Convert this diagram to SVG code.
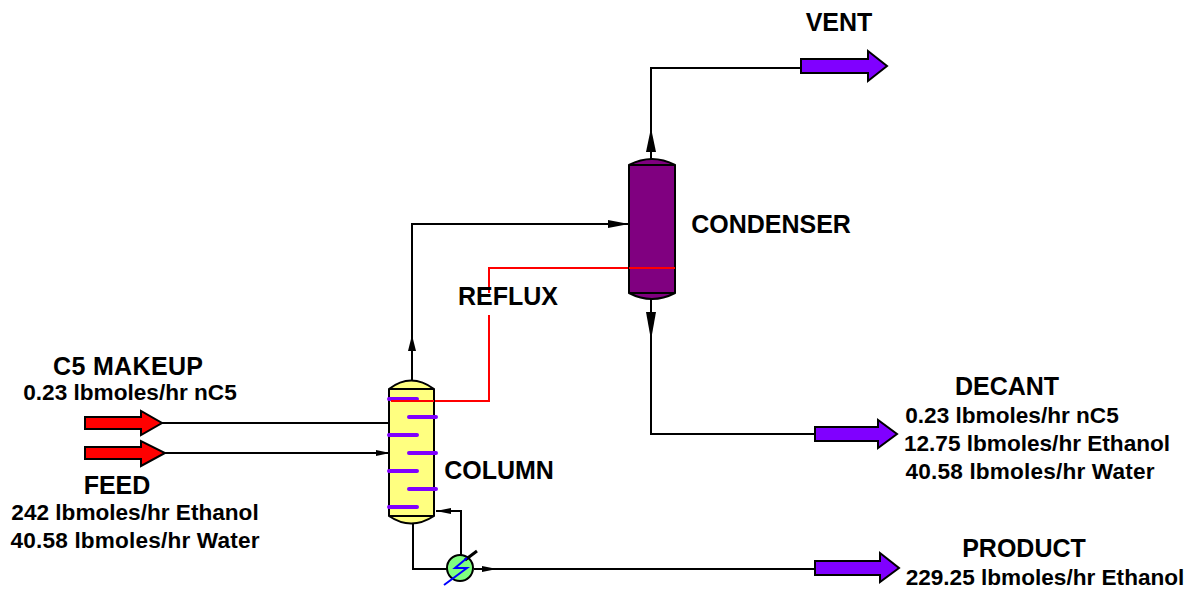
<svg xmlns="http://www.w3.org/2000/svg" width="1193" height="589" viewBox="0 0 1193 589">
<style>
.l{fill:none;stroke:#000;stroke-width:2}
.r{fill:none;stroke:#f00;stroke-width:2}
.h{fill:#000;stroke:none}
.a{stroke:#000;stroke-width:2;stroke-linejoin:miter}
.p{fill:#8000ff}
.f{fill:#f00}
.t{font-family:"Liberation Sans",Arial,sans-serif;font-weight:700;fill:#000;text-anchor:middle}
.b{font-size:25px}
.s{font-size:22.6px}
.tr{stroke:#8000ff;stroke-width:4;stroke-linecap:round}
</style>
<rect width="1193" height="589" fill="#fff"/>
<g id="connectors">
<path class="l" d="M412 381V224H629"/>
<path class="l" d="M651 159V68H801"/>
<path class="l" d="M651 299V434H815"/>
<path class="l" d="M162 423H391"/>
<path class="l" d="M164 453H391"/>
<path class="l" d="M413 523V569H447"/>
<path class="l" d="M461 555V511H436"/>
<path class="l" d="M474 569H815"/>
<path class="r" d="M675 268H489V293"/>
<path class="r" d="M489 315V401H391"/>
<path class="h" d="M412 335L416 351H408Z"/>
<path class="h" d="M629 224L608 220V228Z"/>
<path class="h" d="M651 128L656 152H646Z"/>
<path class="h" d="M651 340L646 312H656Z"/>
<path class="h" d="M390 453L376 450V456Z"/>
<path class="h" d="M436 511L451 508V514Z"/>
<path class="h" d="M497 569L482 566V572Z"/>
</g>
<g id="c5-makeup"><path class="a f" d="M85 417H141V411L162 423L141 435V429H85Z"/></g>
<g id="feed"><path class="a f" d="M85 447H141V441L165 453L141 466V459H85Z"/></g>
<g id="vent"><path class="a p" d="M801 59H868V51L887 66L868 81V73H801Z"/></g>
<g id="decant"><path class="a p" d="M815 427H878V420L897 434L878 448V441H815Z"/></g>
<g id="product"><path class="a p" d="M815 561H880V553L899 568L880 582V575H815Z"/></g>
<g id="column">
<path d="M389 389Q411 372 434 389V516Q411 531 389 516Z" fill="#ffff80" stroke="#000" stroke-width="2"/>
<path class="l" d="M389 389H434M389 516H434"/>
<path class="tr" d="M389 399H417M409 417H436M389 435H417M409 453H436M389 471H417M409 489H436M389 507H417"/>
<path class="r" d="M391 401H434"/>
</g>
<g id="condenser">
<path d="M629 165Q652 153 675 165V293Q652 305 629 293Z" fill="#800080" stroke="#000" stroke-width="2"/>
<path class="l" d="M629 165H675M629 293H675"/>
<path class="r" d="M629 268H675"/>
</g>
<g id="reboiler">
<circle cx="460" cy="568" r="13" fill="#80ff80" stroke="#000" stroke-width="2"/>
<path d="M465 560L477 551" fill="none" stroke="#000" stroke-width="3"/>
<path d="M444 585L467 568H455L467 558" fill="none" stroke="#00f" stroke-width="2"/>
</g>
<g id="labels">
<text class="t b" x="839" y="31">VENT</text>
<text class="t b" x="771" y="233">CONDENSER</text>
<text class="t b" x="508" y="305">REFLUX</text>
<text class="t b" x="128" y="375" textLength="150">C5 MAKEUP</text>
<text class="t s" x="130" y="400">0.23 lbmoles/hr nC5</text>
<text class="t b" x="117" y="494">FEED</text>
<text class="t s" x="135" y="520">242 lbmoles/hr Ethanol</text>
<text class="t s" x="135" y="548" textLength="249">40.58 lbmoles/hr Water</text>
<text class="t b" x="499" y="479">COLUMN</text>
<text class="t b" x="1007" y="395">DECANT</text>
<text class="t s" x="1012" y="423">0.23 lbmoles/hr nC5</text>
<text class="t s" x="1037" y="451">12.75 lbmoles/hr Ethanol</text>
<text class="t s" x="1030" y="479" textLength="249">40.58 lbmoles/hr Water</text>
<text class="t b" x="1024" y="557">PRODUCT</text>
<text class="t s" x="1045" y="585">229.25 lbmoles/hr Ethanol</text>
</g>
</svg>
